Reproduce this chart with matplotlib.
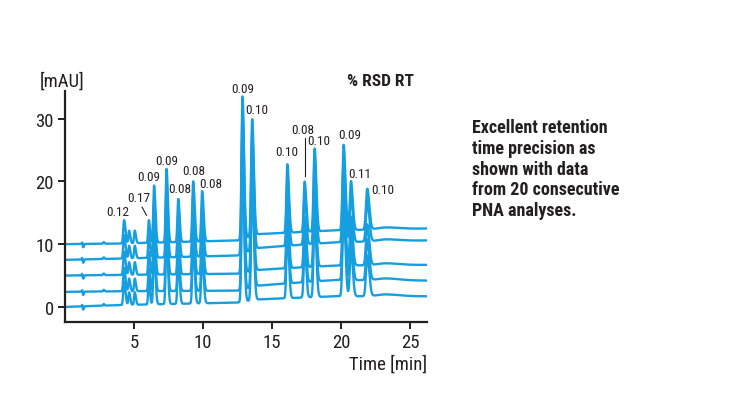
"""
Chromatogram overlay: retention time precision of consecutive PNA runs.
"""

import matplotlib as mpl

mpl.use("Agg")

import matplotlib.pyplot as plt
import numpy as np
from matplotlib import font_manager

BLUE = "#159ee0"
DARK = "#231f20"

# peaks: retention time [min], height above baseline [mAU]
peak_times = [1.25, 1.31, 2.80, 4.28, 4.64, 5.05, 6.07, 6.45, 7.35, 8.20, 9.28, 9.93,
              12.85, 13.55, 16.10, 17.35, 18.07, 20.17, 20.70, 21.88, 23.2]
peak_heights = [0.3, -0.6, 0.25, 3.7, 2.0, 2.0, 3.6, 9.1, 11.7, 6.85, 9.6, 8.0,
                22.7, 18.6, 10.9, 8.0, 13.2, 13.6, 7.8, 6.5, 0.3]
peak_widths = [0.025, 0.03, 0.04, 0.06, 0.05, 0.05, 0.05, 0.06, 0.06, 0.06, 0.065, 0.065,
               0.07, 0.075, 0.07, 0.07, 0.075, 0.08, 0.08, 0.09, 0.6]

# baseline level of each of the five traces at a few times [min]
base_times = [0.0, 4.0, 12.5, 14.0, 19.5, 26.2]
base_levels = [
    [10.0, 10.1, 10.6, 11.6, 12.2, 12.5],
    [7.5, 7.7, 8.2, 9.4, 10.3, 10.6],
    [5.0, 5.1, 5.3, 5.9, 6.6, 6.7],
    [2.4, 2.5, 2.6, 3.4, 4.3, 4.2],
    [0.0, 0.3, 0.7, 1.2, 1.7, 1.7],
]

# %RSD labels and their positions
rsd_labels = ["0.12", "0.17", "0.09", "0.09", "0.08", "0.08", "0.08",
              "0.09", "0.10", "0.10", "0.08", "0.10", "0.09", "0.11", "0.10"]
rsd_x = [3.84, 5.34, 6.09, 7.35, 8.33, 9.33, 10.58,
         12.85, 13.87, 16.04, 17.20, 18.36, 20.63, 21.35, 22.97]
rsd_y = [15.2, 17.5, 20.8, 23.3, 18.8, 21.7, 19.6,
         34.8, 31.4, 24.7, 28.3, 26.5, 27.4, 21.3, 18.7]

y_ticks = [0, 10, 20, 30]
x_ticks = [5, 10, 15, 20, 25]

note = ("Excellent retention\ntime precision as\nshown with data\n"
        "from 20 consecutive\nPNA analyses.")


def pick_font():
    names = {f.name for f in font_manager.fontManager.ttflist}
    for name in ["Roboto Condensed", "Liberation Sans Narrow", "Liberation Sans"]:
        if name in names:
            return name
    return "DejaVu Sans"


def trace(t, baseline):
    y = np.interp(t, base_times, baseline)
    for rt, h, w in zip(peak_times, peak_heights, peak_widths):
        sigma = np.where(t < rt, w, w * 1.6)
        y = y + h * np.exp(-0.5 * ((t - rt) / sigma) ** 2)
    return y


def main():
    font = pick_font()
    plt.rcParams["font.family"] = [font, "DejaVu Sans"]

    fig = plt.figure(figsize=(7.54, 4.06), dpi=100)
    ax = fig.add_axes([0.0862, 0.2044, 0.48, 0.569])

    t = np.linspace(0, 26.2, 4000)
    for baseline in base_levels:
        ax.plot(t, trace(t, baseline), color=BLUE, lw=1.7, solid_joinstyle="round")

    for label, x, y in zip(rsd_labels, rsd_x, rsd_y):
        ax.text(x, y, label, ha="center", va="center", fontsize=9.5, color=DARK)
    ax.plot([5.58, 5.9], [15.9, 14.6], color=DARK, lw=0.8)
    ax.plot([17.35, 17.35], [26.9, 20.9], color=DARK, lw=0.8)

    ax.set_xlim(0, 26.2)
    ax.set_ylim(-2.4, 34.4)
    ax.set_xticks(x_ticks)
    ax.set_yticks(y_ticks)
    ax.tick_params(direction="out", length=5, width=1.4, colors=DARK, labelsize=13.5, pad=3)
    for side in ["top", "right"]:
        ax.spines[side].set_visible(False)
    for side in ["left", "bottom"]:
        ax.spines[side].set_linewidth(1.6)
        ax.spines[side].set_color(DARK)

    fig.text(62 / 754, 1 - 82 / 406, "[mAU]", ha="center", va="center", fontsize=13.5, color=DARK)
    fig.text(427 / 754, 1 - 365 / 406, "Time [min]", ha="right", va="center", fontsize=13.5, color=DARK)
    fig.text(414 / 754, 1 - 81 / 406, "% RSD RT", ha="right", va="center", fontsize=12.5,
             fontweight="bold", color=DARK)
    fig.text(472 / 754, 1 - 119 / 406, note, ha="left", va="top", fontsize=13,
             fontweight="bold", color=DARK, linespacing=1.2)

    fig.savefig("out.png", dpi=100)
    plt.close(fig)


if __name__ == "__main__":
    main()
